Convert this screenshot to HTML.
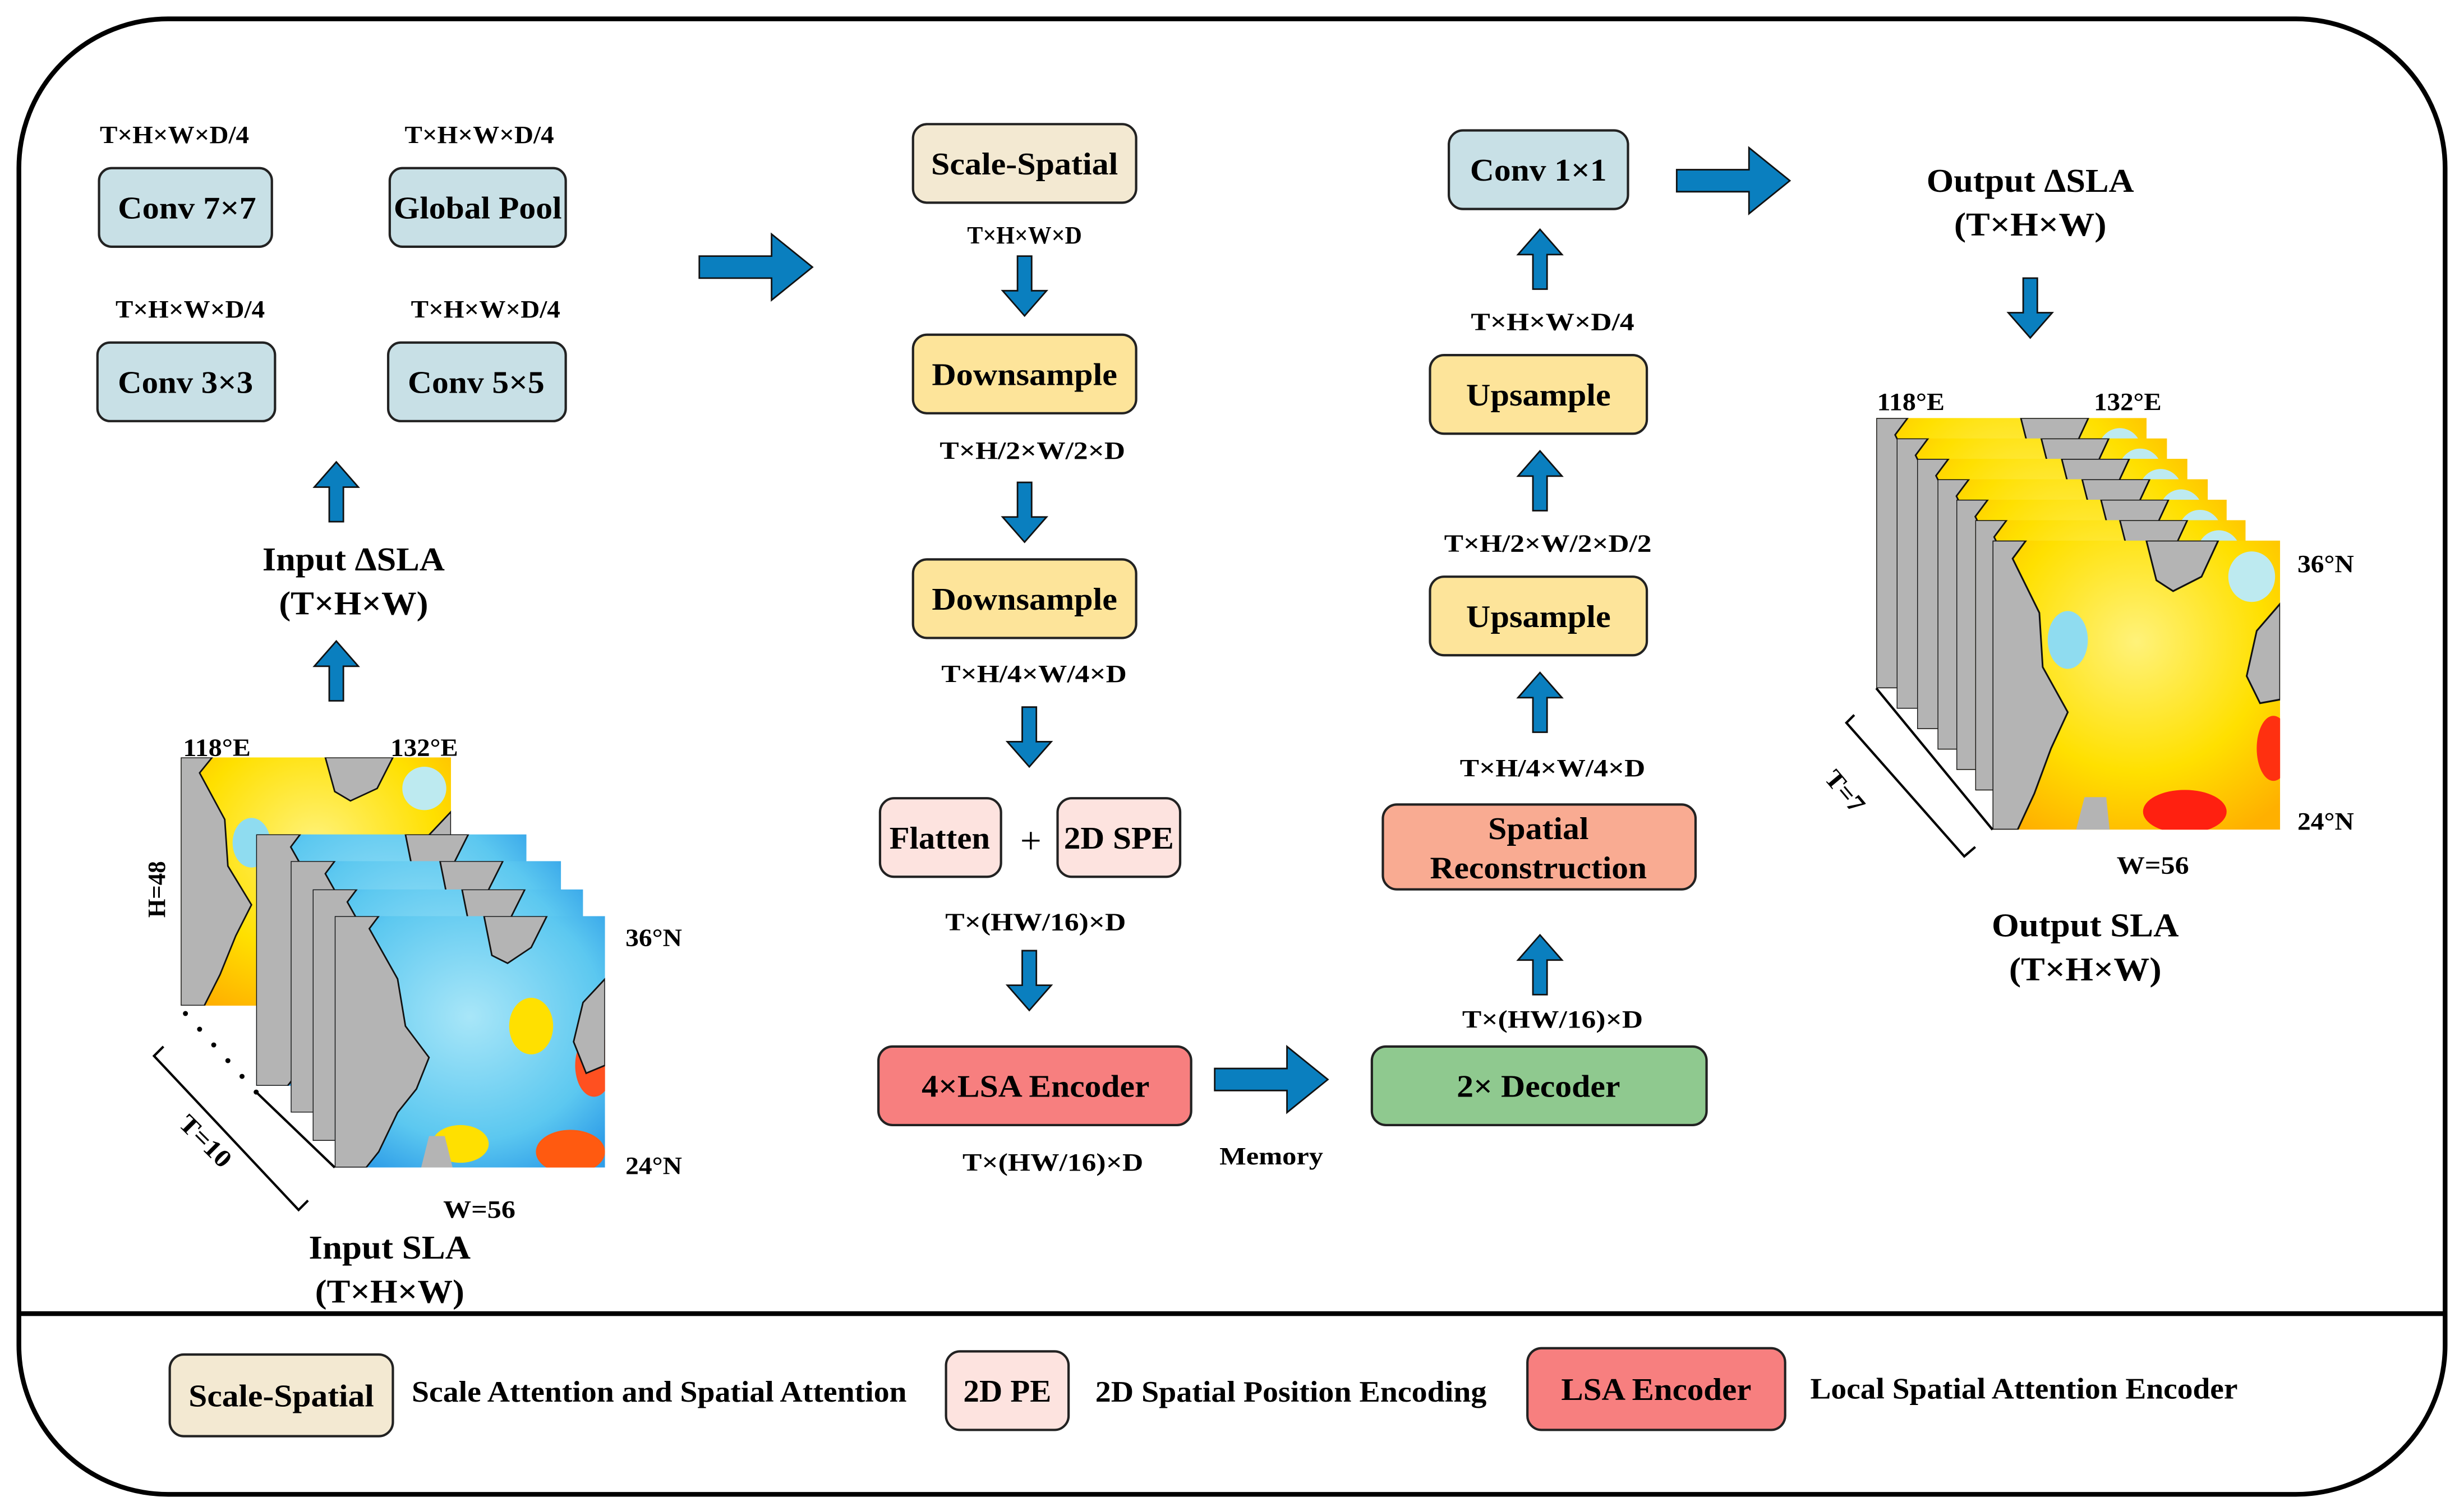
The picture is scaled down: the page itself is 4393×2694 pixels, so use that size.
<!DOCTYPE html>
<html><head><meta charset="utf-8"><style>
html,body{margin:0;padding:0;background:#fff;}
svg{display:block;}
text{font-family:"Liberation Serif","DejaVu Serif",serif;font-weight:bold;fill:#000;}
.b{font-size:20px;text-anchor:middle;}
.d{font-size:16px;text-anchor:middle;}
.l{font-size:19px;}
.t{font-size:21px;text-anchor:middle;}
</style></head><body>
<svg width="4393" height="2694" viewBox="0 0 1568 961.6" xmlns="http://www.w3.org/2000/svg" font-family="Liberation Serif, serif" lengthAdjust="spacingAndGlyphs">
<defs>
<radialGradient id="gb" cx="0.5" cy="0.4" r="0.7">
<stop offset="0" stop-color="#a8e6f8"/><stop offset="0.7" stop-color="#5cc8f0"/><stop offset="1" stop-color="#2f9ee8"/></radialGradient>
<radialGradient id="gy" cx="0.5" cy="0.35" r="0.75">
<stop offset="0" stop-color="#fff27a"/><stop offset="0.6" stop-color="#ffe000"/><stop offset="1" stop-color="#ffb000"/></radialGradient>
<symbol id="mapB" viewBox="0 0 172 160" preserveAspectRatio="none">
<rect width="172" height="160" fill="url(#gb)"/>
<ellipse cx="125" cy="70" rx="14" ry="18" fill="#ffe000"/>
<ellipse cx="150" cy="150" rx="22" ry="14" fill="#ff5a10"/>
<ellipse cx="165" cy="95" rx="12" ry="20" fill="#ff5020"/>
<ellipse cx="80" cy="145" rx="18" ry="12" fill="#ffe000"/>
<path d="M0 0 H28 L22 8 L40 40 L45 70 L60 90 L52 110 L40 125 L28 150 L20 160 H0Z" fill="#b4b4b4" stroke="#111" stroke-width="1"/>
<path d="M95 0 H135 L125 20 L110 30 L100 25 Z" fill="#b4b4b4" stroke="#111" stroke-width="1"/>
<path d="M172 40 L158 55 L152 80 L160 100 L172 95 Z" fill="#b4b4b4" stroke="#111" stroke-width="1"/>
<path d="M55 160 L60 140 L70 140 L75 160Z" fill="#b4b4b4"/>
</symbol>
<symbol id="mapY" viewBox="0 0 172 160" preserveAspectRatio="none">
<rect width="172" height="160" fill="url(#gy)"/>
<ellipse cx="45" cy="55" rx="12" ry="16" fill="#8fdcf0"/>
<ellipse cx="115" cy="150" rx="25" ry="12" fill="#ff2010"/>
<ellipse cx="168" cy="115" rx="10" ry="18" fill="#ff3010"/>
<ellipse cx="155" cy="20" rx="14" ry="14" fill="#bdeaf0"/>
<path d="M0 0 H20 L12 10 L28 40 L30 70 L45 95 L35 115 L25 140 L15 160 H0Z" fill="#b4b4b4" stroke="#111" stroke-width="1"/>
<path d="M92 0 H135 L125 20 L108 28 L98 22 Z" fill="#b4b4b4" stroke="#111" stroke-width="1"/>
<path d="M172 35 L158 50 L152 75 L160 90 L172 88 Z" fill="#b4b4b4" stroke="#111" stroke-width="1"/>
<path d="M50 160 L55 142 L68 142 L70 160Z" fill="#b4b4b4"/>
</symbol>
<path id="ad" d="M-4.5 0 H4.5 V22 H14 L0 38 L-14 22 H-4.5Z" fill="#0a7fbf" stroke="#111" stroke-width="1"/>
<path id="au" d="M-4.5 38 H4.5 V16 H14 L0 0 L-14 16 H-4.5Z" fill="#0a7fbf" stroke="#111" stroke-width="1"/>
<path id="ar" d="M0 -7 H46 V-21 L72 0 L46 21 V7 H0Z" fill="#0a7fbf" stroke="#111" stroke-width="1"/>
</defs>

<rect x="12" y="12" width="1544" height="939" rx="95" ry="95" fill="none" stroke="#000" stroke-width="3"/>
<line x1="12" y1="836" x2="1556" y2="836" stroke="#000" stroke-width="3"/>

<!-- left branch -->
<text class="d" x="111" y="91" textLength="95" lengthAdjust="spacingAndGlyphs">T×H×W×D/4</text>
<text class="d" x="305" y="91" textLength="95" lengthAdjust="spacingAndGlyphs">T×H×W×D/4</text>
<rect x="63" y="107" width="110" height="50" rx="8" fill="#c8e0e6" stroke="#222" stroke-width="1.5"/>
<text class="b" x="119" y="139" textLength="88" lengthAdjust="spacingAndGlyphs">Conv 7×7</text>
<rect x="248" y="107" width="112" height="50" rx="8" fill="#c8e0e6" stroke="#222" stroke-width="1.5"/>
<text class="b" x="304" y="139" textLength="107" lengthAdjust="spacingAndGlyphs">Global Pool</text>
<text class="d" x="121" y="202" textLength="95" lengthAdjust="spacingAndGlyphs">T×H×W×D/4</text>
<text class="d" x="309" y="202" textLength="95" lengthAdjust="spacingAndGlyphs">T×H×W×D/4</text>
<rect x="62" y="218" width="113" height="50" rx="8" fill="#c8e0e6" stroke="#222" stroke-width="1.5"/>
<text class="b" x="118" y="250" textLength="86" lengthAdjust="spacingAndGlyphs">Conv 3×3</text>
<rect x="247" y="218" width="113" height="50" rx="8" fill="#c8e0e6" stroke="#222" stroke-width="1.5"/>
<text class="b" x="303" y="250" textLength="87" lengthAdjust="spacingAndGlyphs">Conv 5×5</text>
<use href="#au" x="214" y="294"/>
<text class="t" x="225" y="363" textLength="116" lengthAdjust="spacingAndGlyphs">Input ΔSLA</text>
<text class="t" x="225" y="391" textLength="95" lengthAdjust="spacingAndGlyphs">(T×H×W)</text>
<use href="#au" x="214" y="408"/>

<!-- input maps -->
<text class="d" x="138" y="481" textLength="43" lengthAdjust="spacingAndGlyphs">118°E</text>
<text class="d" x="270" y="481" textLength="43" lengthAdjust="spacingAndGlyphs">132°E</text>
<use href="#mapY" x="115" y="482" width="172" height="158"/>
<use href="#mapB" x="163" y="531" width="172" height="160"/>
<use href="#mapB" x="185" y="548" width="172" height="160"/>
<use href="#mapB" x="199" y="566" width="172" height="160"/>
<use href="#mapB" x="213" y="583" width="172" height="160"/>
<g fill="#000"><circle cx="118" cy="645" r="1.6"/><circle cx="127" cy="655" r="1.6"/><circle cx="136" cy="665" r="1.6"/><circle cx="145" cy="675" r="1.6"/><circle cx="154" cy="685" r="1.6"/><circle cx="163" cy="695" r="1.6"/></g>
<line x1="163" y1="695" x2="213" y2="743" stroke="#000" stroke-width="1.5"/>
<path d="M104 666 L98 672 L190 770 L196 764" fill="none" stroke="#000" stroke-width="1.5"/>
<text class="d" x="0" y="0" transform="translate(127,730) rotate(45)" textLength="40" lengthAdjust="spacingAndGlyphs">T=10</text>
<text class="d" x="0" y="0" transform="translate(105,566) rotate(-90)" textLength="36" lengthAdjust="spacingAndGlyphs">H=48</text>
<text class="d" x="416" y="602" textLength="36" lengthAdjust="spacingAndGlyphs">36°N</text>
<text class="d" x="416" y="747" textLength="36" lengthAdjust="spacingAndGlyphs">24°N</text>
<text class="d" x="305" y="775" textLength="46" lengthAdjust="spacingAndGlyphs">W=56</text>
<text class="t" x="248" y="801" textLength="103" lengthAdjust="spacingAndGlyphs">Input SLA</text>
<text class="t" x="248" y="829" textLength="95" lengthAdjust="spacingAndGlyphs">(T×H×W)</text>

<use href="#ar" x="445" y="170"/>

<!-- middle column -->
<rect x="581" y="79" width="142" height="50" rx="9" fill="#f3e9d2" stroke="#222" stroke-width="1.5"/>
<text class="b" x="652" y="111" textLength="119" lengthAdjust="spacingAndGlyphs">Scale-Spatial</text>
<text class="d" x="652" y="155" textLength="73" lengthAdjust="spacingAndGlyphs">T×H×W×D</text>
<use href="#ad" x="652" y="163"/>
<rect x="581" y="213" width="142" height="50" rx="9" fill="#fde49a" stroke="#222" stroke-width="1.5"/>
<text class="b" x="652" y="245" textLength="118" lengthAdjust="spacingAndGlyphs">Downsample</text>
<text class="d" x="657" y="292" textLength="118" lengthAdjust="spacingAndGlyphs">T×H/2×W/2×D</text>
<use href="#ad" x="652" y="307"/>
<rect x="581" y="356" width="142" height="50" rx="9" fill="#fde49a" stroke="#222" stroke-width="1.5"/>
<text class="b" x="652" y="388" textLength="118" lengthAdjust="spacingAndGlyphs">Downsample</text>
<text class="d" x="658" y="434" textLength="118" lengthAdjust="spacingAndGlyphs">T×H/4×W/4×D</text>
<use href="#ad" x="655" y="450"/>
<rect x="560" y="508" width="77" height="50" rx="9" fill="#fde3df" stroke="#222" stroke-width="1.5"/>
<text class="b" x="598" y="540" textLength="64" lengthAdjust="spacingAndGlyphs">Flatten</text>
<text class="b" x="656" y="543" style="font-size:24px;font-weight:normal">+</text>
<rect x="673" y="508" width="78" height="50" rx="9" fill="#fde3df" stroke="#222" stroke-width="1.5"/>
<text class="b" x="712" y="540" textLength="70" lengthAdjust="spacingAndGlyphs">2D SPE</text>
<text class="d" x="659" y="592" textLength="115" lengthAdjust="spacingAndGlyphs">T×(HW/16)×D</text>
<use href="#ad" x="655" y="605"/>
<rect x="559" y="666" width="199" height="50" rx="9" fill="#f77f7f" stroke="#222" stroke-width="1.5"/>
<text class="b" x="659" y="698" textLength="145" lengthAdjust="spacingAndGlyphs">4×LSA Encoder</text>
<text class="d" x="670" y="745" textLength="115" lengthAdjust="spacingAndGlyphs">T×(HW/16)×D</text>
<use href="#ar" x="773" y="687"/>
<text class="d" x="809" y="741" textLength="66" lengthAdjust="spacingAndGlyphs">Memory</text>

<!-- right column -->
<rect x="873" y="666" width="213" height="50" rx="9" fill="#8fc98f" stroke="#222" stroke-width="1.5"/>
<text class="b" x="979" y="698" textLength="104" lengthAdjust="spacingAndGlyphs">2× Decoder</text>
<text class="d" x="988" y="654" textLength="115" lengthAdjust="spacingAndGlyphs">T×(HW/16)×D</text>
<use href="#au" x="980" y="595"/>
<rect x="880" y="512" width="199" height="54" rx="9" fill="#f9ab92" stroke="#222" stroke-width="1.5"/>
<text class="b" x="979" y="534" textLength="64" lengthAdjust="spacingAndGlyphs">Spatial</text>
<text class="b" x="979" y="559" textLength="138" lengthAdjust="spacingAndGlyphs">Reconstruction</text>
<text class="d" x="988" y="494" textLength="118" lengthAdjust="spacingAndGlyphs">T×H/4×W/4×D</text>
<use href="#au" x="980" y="428"/>
<rect x="910" y="367" width="138" height="50" rx="9" fill="#fde49a" stroke="#222" stroke-width="1.5"/>
<text class="b" x="979" y="399" textLength="92" lengthAdjust="spacingAndGlyphs">Upsample</text>
<text class="d" x="985" y="351" textLength="132" lengthAdjust="spacingAndGlyphs">T×H/2×W/2×D/2</text>
<use href="#au" x="980" y="287"/>
<rect x="910" y="226" width="138" height="50" rx="9" fill="#fde49a" stroke="#222" stroke-width="1.5"/>
<text class="b" x="979" y="258" textLength="92" lengthAdjust="spacingAndGlyphs">Upsample</text>
<text class="d" x="988" y="210" textLength="104" lengthAdjust="spacingAndGlyphs">T×H×W×D/4</text>
<use href="#au" x="980" y="146"/>
<rect x="922" y="83" width="114" height="50" rx="9" fill="#c8e0e6" stroke="#222" stroke-width="1.5"/>
<text class="b" x="979" y="115" textLength="87" lengthAdjust="spacingAndGlyphs">Conv 1×1</text>
<use href="#ar" x="1067" y="115"/>

<!-- output -->
<text class="t" x="1292" y="122" textLength="132" lengthAdjust="spacingAndGlyphs">Output ΔSLA</text>
<text class="t" x="1292" y="150" textLength="97" lengthAdjust="spacingAndGlyphs">(T×H×W)</text>
<use href="#ad" x="1292" y="177"/>
<text class="d" x="1216" y="261" textLength="43" lengthAdjust="spacingAndGlyphs">118°E</text>
<text class="d" x="1354" y="261" textLength="43" lengthAdjust="spacingAndGlyphs">132°E</text>
<use href="#mapY" x="1194" y="266" width="172" height="172"/>
<use href="#mapY" x="1207" y="279" width="172" height="172"/>
<use href="#mapY" x="1220" y="292" width="172" height="172"/>
<use href="#mapY" x="1233" y="305" width="172" height="172"/>
<use href="#mapY" x="1245" y="318" width="172" height="172"/>
<use href="#mapY" x="1257" y="331" width="172" height="172"/>
<use href="#mapY" x="1268" y="344" width="183" height="184"/>
<line x1="1194" y1="438" x2="1268" y2="528" stroke="#000" stroke-width="1.5"/>
<path d="M1180 455 L1175 460 L1250 545 L1257 539" fill="none" stroke="#000" stroke-width="1.5"/>
<text class="d" x="0" y="0" transform="translate(1170,507) rotate(50)" textLength="30" lengthAdjust="spacingAndGlyphs">T=7</text>
<text class="d" x="1480" y="364" textLength="36" lengthAdjust="spacingAndGlyphs">36°N</text>
<text class="d" x="1480" y="528" textLength="36" lengthAdjust="spacingAndGlyphs">24°N</text>
<text class="d" x="1370" y="556" textLength="46" lengthAdjust="spacingAndGlyphs">W=56</text>
<text class="t" x="1327" y="596" textLength="119" lengthAdjust="spacingAndGlyphs">Output SLA</text>
<text class="t" x="1327" y="624" textLength="97" lengthAdjust="spacingAndGlyphs">(T×H×W)</text>

<!-- legend -->
<rect x="108" y="862" width="142" height="52" rx="9" fill="#f3e9d2" stroke="#222" stroke-width="1.5"/>
<text class="b" x="179" y="895" textLength="118" lengthAdjust="spacingAndGlyphs">Scale-Spatial</text>
<text class="l" x="262" y="892" textLength="315" lengthAdjust="spacingAndGlyphs">Scale Attention and Spatial Attention</text>
<rect x="602" y="860" width="78" height="50" rx="9" fill="#fde3df" stroke="#222" stroke-width="1.5"/>
<text class="b" x="641" y="892" textLength="56" lengthAdjust="spacingAndGlyphs">2D PE</text>
<text class="l" x="697" y="892" textLength="249" lengthAdjust="spacingAndGlyphs">2D Spatial Position Encoding</text>
<rect x="972" y="858" width="164" height="52" rx="9" fill="#f77f7f" stroke="#222" stroke-width="1.5"/>
<text class="b" x="1054" y="891" textLength="121" lengthAdjust="spacingAndGlyphs">LSA Encoder</text>
<text class="l" x="1152" y="890" textLength="272" lengthAdjust="spacingAndGlyphs">Local Spatial Attention Encoder</text>
</svg>
</body></html>
